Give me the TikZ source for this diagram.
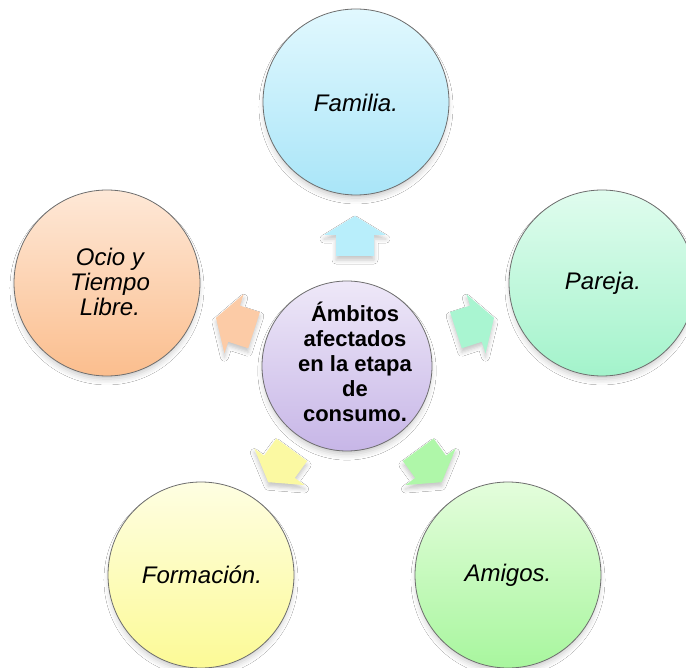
\documentclass[tikz,border=0pt]{standalone}
\usepackage{fontspec}
\setmainfont{Liberation Sans}
\usetikzlibrary{shadows.blur}
\definecolor{bordc}{HTML}{6E6E6E}
\definecolor{famT}{HTML}{E1F8FE}\definecolor{famB}{HTML}{A9E5F8}
\definecolor{parT}{HTML}{E0FCEE}\definecolor{parB}{HTML}{A3F3CB}
\definecolor{amiT}{HTML}{E4FDDC}\definecolor{amiB}{HTML}{A8F69E}
\definecolor{forT}{HTML}{FEFEE2}\definecolor{forB}{HTML}{FCFA96}
\definecolor{ocioT}{HTML}{FEE8D7}\definecolor{ocioB}{HTML}{FBBE8E}
\definecolor{cenT}{HTML}{EEE8F8}\definecolor{cenB}{HTML}{C7B6E7}
\definecolor{arFam}{HTML}{B8EEFB}
\definecolor{arPar}{HTML}{A9F5D1}
\definecolor{arAmi}{HTML}{AFF7A9}
\definecolor{arFor}{HTML}{FBF9A2}
\definecolor{arOcio}{HTML}{FCCBA6}
\begin{document}
\begin{tikzpicture}[x=1pt,y=-1pt,
  ringcircle/.style={circle, draw=bordc, line width=0.8pt, minimum size=186pt, inner sep=0pt,
    blur shadow={shadow xshift=0pt, shadow yshift=-5pt, shadow scale=0.98, shadow blur radius=6pt, shadow opacity=22}},
  ringtext/.style={align=center, inner sep=0pt, font=\fontsize{24}{25}\selectfont\itshape},
  centertext/.style={align=center, inner sep=0pt, font=\fontsize{22}{25}\selectfont\bfseries},
  blockarrow/.style={blur shadow={shadow xshift=0pt, shadow yshift=-4pt, shadow blur radius=4pt, shadow opacity=22}}
]
\useasboundingbox (0,0) rectangle (686,668);
\fill[white] (0,0) rectangle (686,668);

% outer circles
\node[ringcircle, top color=famT, bottom color=famB] (fam) at (356,102) {};
\node[ringcircle, top color=parT, bottom color=parB] (par) at (602,283) {};
\node[ringcircle, top color=amiT, bottom color=amiB] (ami) at (508,575) {};
\node[ringcircle, top color=forT, bottom color=forB] (for) at (201,575) {};
\node[ringcircle, top color=ocioT, bottom color=ocioB] (ocio) at (107,283) {};

\node[ringtext] (famtxt) at (356,103) {Familia.};
\node[ringtext] (partxt) at (603,283) {Pareja.};
\node[ringtext] (amitxt) at (508,575) {Amigos.};
\node[ringtext] (fortxt) at (202,575) {Formación.};
\node[ringtext] (ociotxt) at (110,282) {Ocio y\\Tiempo\\Libre.};

% arrows
\fill[blockarrow, fill=arFam, shift={(355,236)}, rotate=90]
  (20,0) -- (1,31) -- (1,19) -- (-20,19) -- (-20,-19) -- (1,-19) -- (1,-31) -- cycle;
\fill[blockarrow, fill=arPar, shift={(475,324)}, rotate=18]
  (20,0) -- (1,31) -- (1,19) -- (-20,19) -- (-20,-19) -- (1,-19) -- (1,-31) -- cycle;
\fill[blockarrow, fill=arOcio, shift={(235,324)}, rotate=162]
  (20,0) -- (1,31) -- (1,19) -- (-20,19) -- (-20,-19) -- (1,-19) -- (1,-31) -- cycle;
\fill[blockarrow, fill=arFor, shift={(280,466)}, rotate=234]
  (20,0) -- (1,31) -- (1,19) -- (-20,19) -- (-20,-19) -- (1,-19) -- (1,-31) -- cycle;
\fill[blockarrow, fill=arAmi, shift={(430,466)}, rotate=306]
  (20,0) -- (1,31) -- (1,19) -- (-20,19) -- (-20,-19) -- (1,-19) -- (1,-31) -- cycle;

% center circle
\node[ringcircle, minimum size=170pt, top color=cenT, bottom color=cenB] (cen) at (347,366) {};
\node[centertext] (centxt) at (355,362) {Ámbitos\\afectados\\en la etapa\\de\\consumo.};
\end{tikzpicture}
\end{document}
